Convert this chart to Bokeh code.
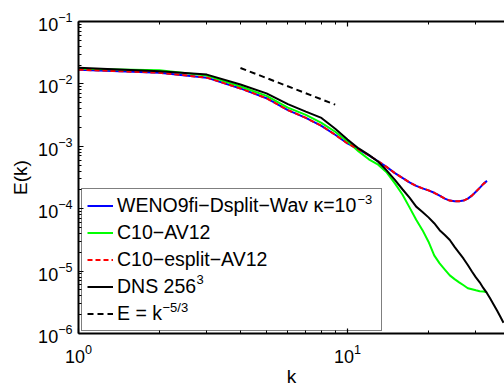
from bokeh.plotting import figure
from bokeh.models import (Range1d, LogAxis, FixedTicker, Legend, LegendItem, Label,
                          CustomJSTickFormatter, LogTickFormatter)
from bokeh.embed import file_html
from bokeh.resources import INLINE

# ---------------- data ----------------
k_dns = list(range(1, 39))
E_dns = [0.0182, 0.0160, 0.0141, 0.00978, 0.00706, 0.00473, 0.00360, 0.00285, 0.00191, 0.00128,
         0.000923, 0.000729, 0.000565, 0.000408, 0.000289, 0.000205, 0.000150, 0.000108, 8.87e-5, 7.26e-5,
         5.85e-5, 4.53e-5, 3.78e-5, 3.15e-5, 2.44e-5, 1.96e-5, 1.58e-5, 1.25e-5, 9.86e-6, 7.93e-6,
         6.61e-6, 5.32e-6, 4.43e-6, 3.57e-6, 2.87e-6, 2.31e-6, 1.85e-6, 1.49e-6]

k_sim = list(range(1, 34))
E_weno = [0.0169, 0.0151, 0.0126, 0.00846, 0.00589, 0.00381, 0.00285, 0.00213, 0.00153, 0.00111,
          0.000891, 0.000716, 0.000576, 0.000463, 0.000372, 0.000311, 0.000264, 0.000232, 0.000212, 0.000197,
          0.000180, 0.000162, 0.000145, 0.000135, 0.000132, 0.000132, 0.000135, 0.000145, 0.000162, 0.000187,
          0.000216, 0.000250, 0.000279]
E_c10 = [0.0175, 0.0166, 0.0136, 0.00910, 0.00644, 0.00417, 0.00318, 0.00237, 0.00171, 0.00119,
         0.000828, 0.000619, 0.000507, 0.000379, 0.000254, 0.000169, 0.000105, 6.66e-5, 4.53e-5, 2.96e-5,
         1.79e-5, 1.33e-5, 1.06e-5, 8.53e-6, 7.43e-6, 6.61e-6, 5.93e-6, 5.32e-6, 5.13e-6, 4.94e-6,
         4.77e-6, 4.71e-6, 4.60e-6]
E_esplit = [0.0169, 0.0151, 0.0126, 0.00846, 0.00589, 0.00381, 0.00285, 0.00213, 0.00153, 0.00111,
            0.000891, 0.000716, 0.000576, 0.000463, 0.000372, 0.000311, 0.000264, 0.000232, 0.000212, 0.000197,
            0.000180, 0.000162, 0.000145, 0.000135, 0.000132, 0.000132, 0.000135, 0.000145, 0.000162, 0.000187,
            0.000216, 0.000250, 0.000279]

k_ref = [4, 9]
E_ref = [0.0180, 0.00465]

x_major = [1, 10]
x_minor = [2, 3, 4, 5, 6, 7, 8, 9, 20, 30]
y_major = [1e-6, 1e-5, 1e-4, 1e-3, 1e-2, 1e-1]
y_minor = [m * 10.0 ** e for e in range(-6, -1) for m in range(2, 10)]

labels = ["WENO9fi\u2212Dsplit\u2212Wav \u03ba=10", "C10\u2212AV12", "C10\u2212esplit\u2212AV12",
          "DNS 256", "E = k"]
label_sups = ["\u22123", "", "", "3", "\u22125/3"]

FONT = "Liberation Sans"

p = figure(width=504, height=389, x_axis_type="log", y_axis_type="log",
           x_range=Range1d(1, 38.33), y_range=Range1d(1e-6, 1e-1),
           output_backend="svg", toolbar_location=None,
           min_border_left=78, min_border_right=0, min_border_top=21, min_border_bottom=51)
p.outline_line_color = None
p.xgrid.visible = False
p.ygrid.visible = False
p.background_fill_color = "white"
p.border_fill_color = "white"

bottom = p.below[0]
left = p.left[0]
top = LogAxis()
p.add_layout(top, "above")

bottom.ticker = FixedTicker(ticks=x_major, minor_ticks=x_minor)
top.ticker = FixedTicker(ticks=x_major, minor_ticks=x_minor)
left.ticker = FixedTicker(ticks=y_major, minor_ticks=y_minor)
bottom.formatter = LogTickFormatter()
left.formatter = LogTickFormatter()
top.formatter = CustomJSTickFormatter(code="return ''")
top.major_label_text_font_size = "1px"
top.major_label_standoff = 0

for ax in (bottom, top, left):
    ax.axis_line_width = 2
    ax.axis_line_color = "black"
    ax.major_tick_in = 5
    ax.major_tick_out = 0
    ax.minor_tick_in = 3
    ax.minor_tick_out = 0
    ax.major_tick_line_width = 1.2
    ax.minor_tick_line_width = 1
    ax.major_tick_line_color = "black"
    ax.minor_tick_line_color = "black"
    ax.axis_label_text_font = FONT
    ax.axis_label_text_font_size = "19px"
    ax.axis_label_text_font_style = "normal"
    ax.axis_label_text_color = "black"

for ax in (bottom, left):
    ax.major_label_text_font = FONT
    ax.major_label_text_font_size = "18px"
    ax.major_label_text_color = "black"
bottom.major_label_standoff = 10
left.major_label_standoff = 6

bottom.axis_label = "k"
bottom.axis_label_standoff = 0
left.axis_label = "E(k)"
left.axis_label_standoff = 4

r_weno = p.line(k_sim, E_weno, line_color="#0000ff", line_width=2)
r_c10 = p.line(k_sim, E_c10, line_color="#00ff00", line_width=2)
r_es = p.line(k_sim, E_esplit, line_color="#ff0000", line_width=2, line_dash="5 3")
r_dns = p.line(k_dns, E_dns, line_color="black", line_width=2)
r_ref = p.line(k_ref, E_ref, line_color="black", line_width=2, line_dash="6 4")

# superscripts inside the legend (screen px relative to the frame's bottom-left)
sup = dict(x_units="screen", y_units="screen", text_font=FONT, text_font_size="13px",
           text_color="black", text_baseline="middle", text_align="left")
sup_pos = [(279, 134), None, None, (118, 54), (84, 26)]
for s, pos in zip(label_sups, sup_pos):
    if s:
        p.add_layout(Label(x=pos[0], y=pos[1], text=s, **sup))

renderers = [r_weno, r_c10, r_es, r_dns, r_ref]
legend = Legend(items=[LegendItem(label=l, renderers=[r]) for l, r in zip(labels, renderers)],
                location=(3, 2), padding=5, spacing=4, margin=0,
                label_height=23, glyph_height=23, glyph_width=26, label_standoff=4,
                label_width=259, label_text_font=FONT, label_text_font_size="19.5px",
                label_text_baseline="middle", label_text_color="black",
                border_line_color="black", border_line_width=1.5,
                background_fill_alpha=0)
p.add_layout(legend)

open("out.html", "w").write(file_html(p, INLINE))
